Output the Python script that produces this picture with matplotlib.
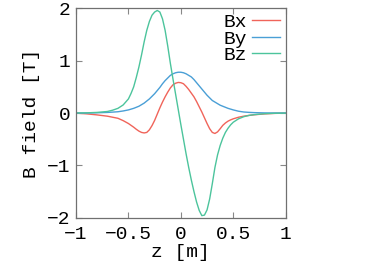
import numpy as np
import matplotlib
matplotlib.use("Agg")
import matplotlib.pyplot as plt

# z position [m] and field components [T]
z = [-1.0, -0.9, -0.8, -0.7, -0.65, -0.6, -0.55, -0.5, -0.475,
     -0.45, -0.425, -0.4, -0.375, -0.35, -0.325, -0.3, -0.275, -0.25, -0.225,
     -0.2, -0.175, -0.15, -0.125, -0.1, -0.075, -0.05, -0.025, 0.0,
     0.025, 0.05, 0.075, 0.1, 0.125, 0.15, 0.175, 0.2, 0.225, 0.25,
     0.275, 0.3, 0.325, 0.35, 0.375, 0.4, 0.425, 0.45,
     0.475, 0.5, 0.55, 0.6, 0.65, 0.7, 0.8, 0.9, 1.0]

bx = [-0.002, -0.015, -0.035, -0.06, -0.08, -0.10, -0.145, -0.20, -0.235,
      -0.27, -0.31, -0.345, -0.37, -0.38, -0.37, -0.32, -0.24, -0.14, -0.02,
      0.10, 0.21, 0.31, 0.40, 0.48, 0.54, 0.57, 0.585, 0.58,
      0.56, 0.51, 0.45, 0.38, 0.31, 0.22, 0.12, 0.02, -0.09, -0.20,
      -0.30, -0.37, -0.39, -0.36, -0.30, -0.235, -0.19, -0.155,
      -0.13, -0.11, -0.08, -0.06, -0.045, -0.033, -0.016, -0.006, -0.002]

by = [0.0, 0.001, 0.005, 0.012, 0.018, 0.025, 0.04, 0.06, 0.075,
      0.09, 0.11, 0.13, 0.16, 0.19, 0.23, 0.27, 0.32, 0.37, 0.43,
      0.49, 0.56, 0.62, 0.67, 0.72, 0.75, 0.77, 0.78, 0.78,
      0.77, 0.75, 0.72, 0.69, 0.64, 0.58, 0.52, 0.46, 0.40, 0.34,
      0.29, 0.24, 0.21, 0.18, 0.15, 0.13, 0.11, 0.09,
      0.075, 0.06, 0.035, 0.02, 0.013, 0.008, 0.003, 0.001, 0.0]

bz = [0.001, 0.004, 0.012, 0.03, 0.055, 0.09, 0.155, 0.27, 0.375,
      0.50, 0.68, 0.88, 1.11, 1.36, 1.58, 1.75, 1.87, 1.93, 1.96,
      1.93, 1.80, 1.58, 1.28, 0.95, 0.65, 0.36, 0.07, -0.22,
      -0.50, -0.78, -1.04, -1.28, -1.50, -1.70, -1.86, -1.96, -1.95, -1.85,
      -1.64, -1.35, -1.04, -0.80, -0.62, -0.48, -0.37, -0.29,
      -0.225, -0.175, -0.11, -0.07, -0.045, -0.03, -0.012, -0.004, -0.001]

plt.rcParams['font.family'] = ['Liberation Mono', 'DejaVu Sans Mono']
plt.rcParams['font.size'] = 14

fig = plt.figure(figsize=(3.74, 2.62), dpi=100)
ax = fig.add_axes([0.2032, 0.169, 0.5607, 0.799])

ax.plot(z, bx, color='#f0645a', lw=1.0, label='Bx')
ax.plot(z, by, color='#4a9fd6', lw=1.0, label='By')
ax.plot(z, bz, color='#4cc49c', lw=1.0, label='Bz')

ax.set_xlim(-1, 1)
ax.set_ylim(-2, 2)
ax.set_xticks([-1, -0.5, 0, 0.5, 1])
ax.set_xticklabels(['−1', '−0.5', '0', '0.5', '1'])
ax.set_yticks([-2, -1, 0, 1, 2])
ax.set_yticklabels(['−2', '−1', '0', '1', '2'])
ax.tick_params(direction='in', top=True, right=True, length=4, width=0.8,
               color='#888888')
ax.tick_params(axis='x', pad=6)
ax.tick_params(axis='y', pad=4)
for s in ax.spines.values():
    s.set_color('#707070')
    s.set_linewidth(0.9)

ax.set_xlabel('z [m]', labelpad=1)
ax.set_ylabel('B field [T]', labelpad=5)

ax.legend(loc='upper right', bbox_to_anchor=(0.99, 0.995), markerfirst=False,
          frameon=False, handlelength=1.4, handletextpad=0.3,
          labelspacing=-0.05, borderaxespad=0, borderpad=0.2, fontsize=14)

fig.savefig('out.png', dpi=100)
